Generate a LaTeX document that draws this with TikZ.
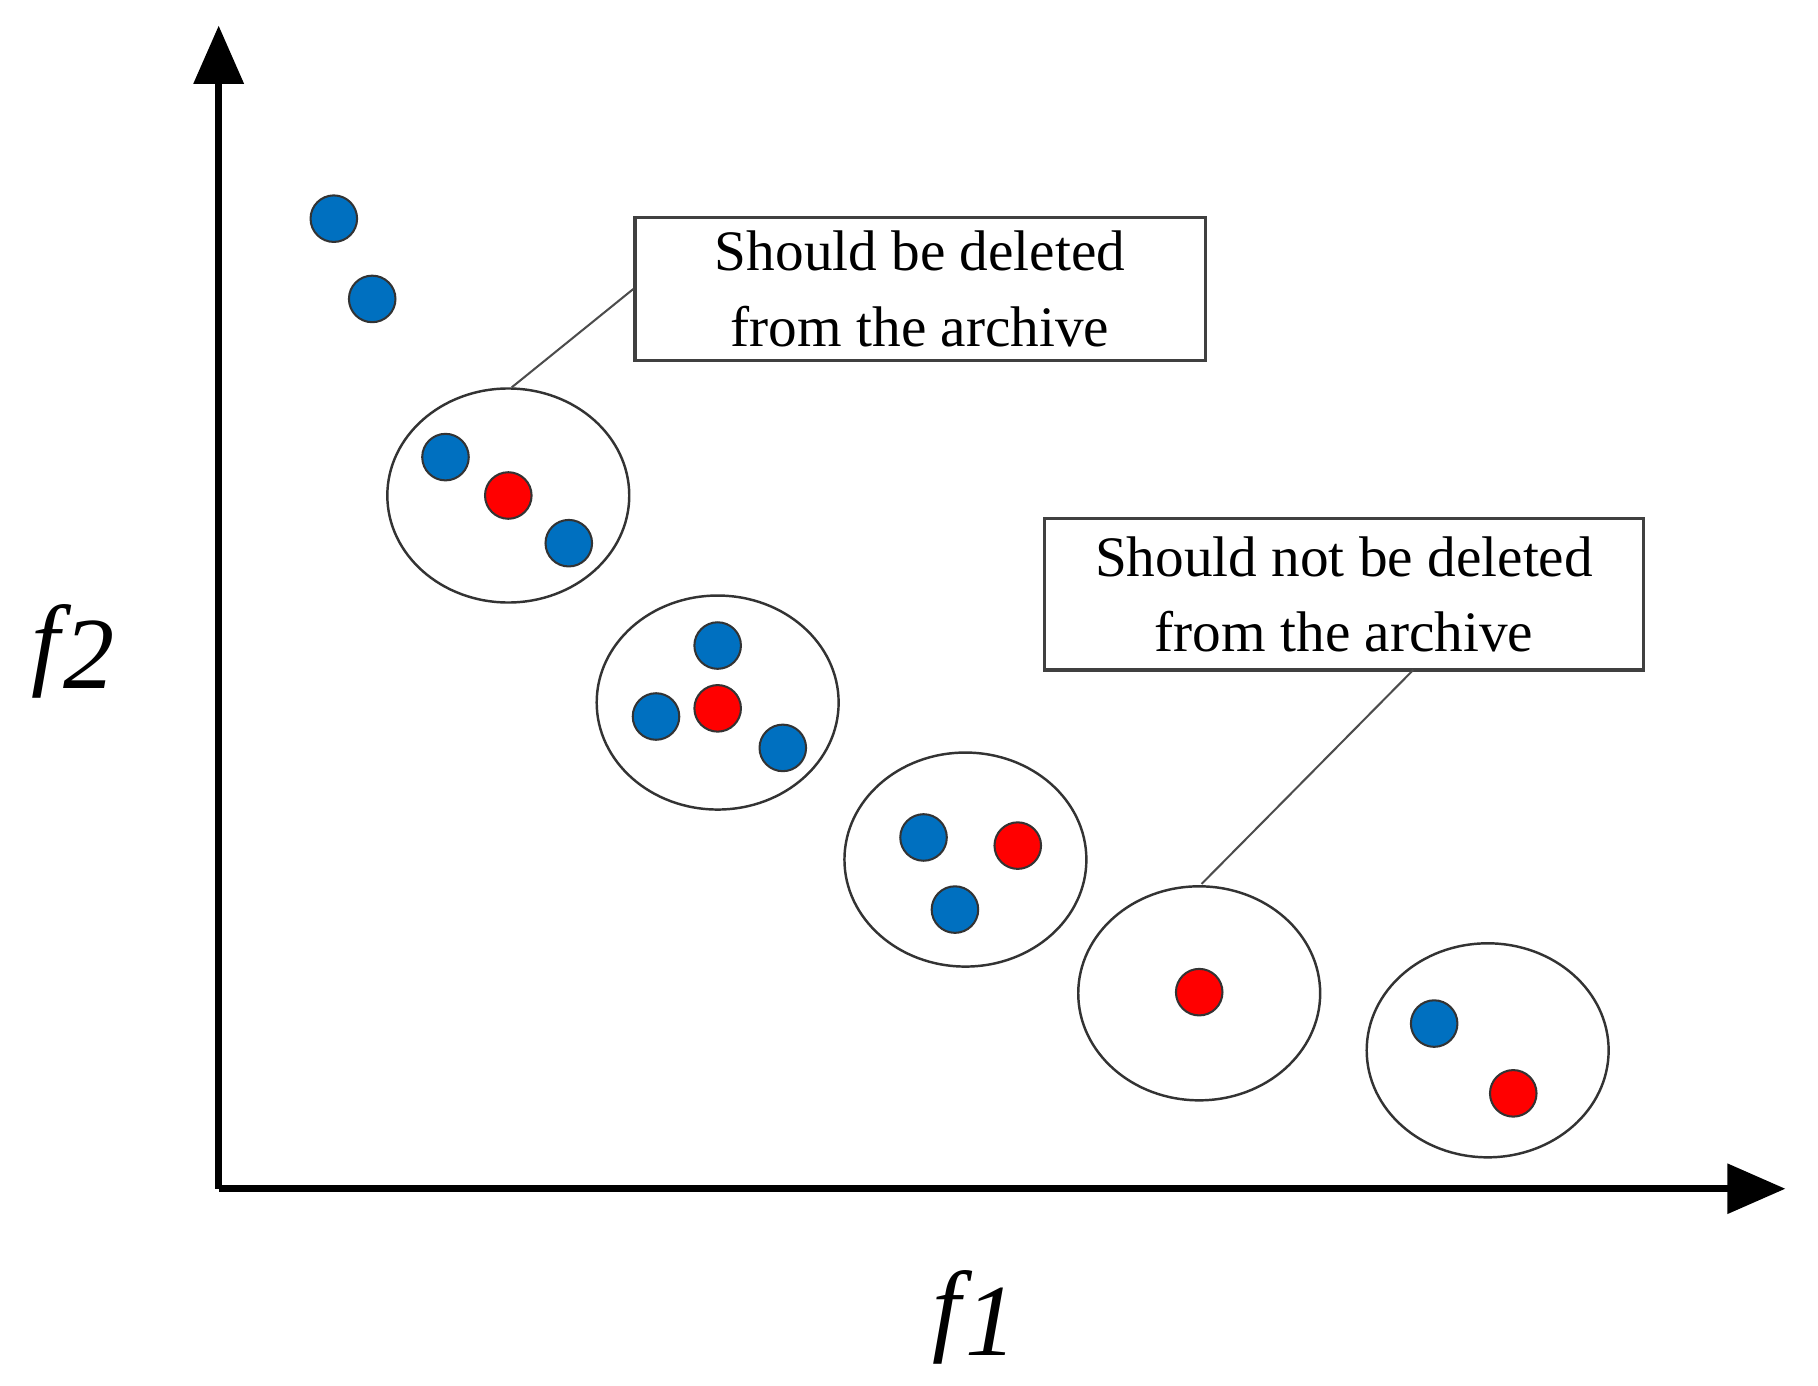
\documentclass[tikz,border=0pt]{standalone}
\usepackage{fontspec}
\setmainfont{Liberation Serif}
\usetikzlibrary{arrows.meta}
\definecolor{bdot}{RGB}{0,112,192}
\definecolor{rdot}{RGB}{255,0,0}
\begin{document}
\begin{tikzpicture}[x=0.01cm,y=-0.01cm,
  axis/.style={line width=1.7pt,-{Triangle[length=0.5cm,width=0.42cm]}},
  bd/.style={circle,draw=black!80,line width=0.5pt,fill=bdot,minimum size=0.4cm,inner sep=0pt},
  rd/.style={circle,draw=black!80,line width=0.5pt,fill=rdot,minimum size=0.4cm,inner sep=0pt},
  grp/.style={draw=black!80,line width=0.6pt},
  box/.style={draw=black!75,line width=0.8pt,align=center,font=\fontsize{14}{18.5}\selectfont,inner sep=0pt},
  lab/.style={font=\fontsize{25}{28}\selectfont\itshape},
  lead/.style={draw=black!70,line width=0.5pt}]
\useasboundingbox (0,0) rectangle (1563,1191);
\coordinate (O) at (188,1022);
\coordinate (Y) at (188,22);
\coordinate (X) at (1535,1022);
\draw[axis] (O) -- (Y);
\draw[axis] (O) -- (X);
\node[lab] (f2) at (63,560) {f\kern1pt\raisebox{-0.12em}{2}};
\node[lab] (f1) at (838,1133) {f\kern1pt\raisebox{-0.12em}{1}};
\draw[grp] (437,426) ellipse (104 and 92);
\draw[grp] (617,604) ellipse (104 and 92);
\draw[grp] (830,739) ellipse (104 and 92);
\draw[grp] (1031,854) ellipse (104 and 92);
\draw[grp] (1279,903) ellipse (104 and 92);
\node[bd] (a1) at (287,188) {};
\node[bd] (a2) at (320,257) {};
\node[bd] (b1) at (383,393) {};
\node[rd] (b2) at (437,426) {};
\node[bd] (b3) at (489,467) {};
\node[bd] (c1) at (617,555) {};
\node[rd] (c2) at (617,609) {};
\node[bd] (c3) at (564,616) {};
\node[bd] (c4) at (673,643) {};
\node[bd] (d1) at (794,720) {};
\node[rd] (d2) at (875,727) {};
\node[bd] (d3) at (821,782) {};
\node[rd] (e1) at (1031,853) {};
\node[bd] (g1) at (1233,880) {};
\node[rd] (g2) at (1301,940) {};
\node[box,minimum width=4.9cm,minimum height=1.23cm] (t1) at (791,248.5) {Should be deleted\\from the archive};
\node[box,minimum width=5.15cm,minimum height=1.3cm] (t2) at (1155.5,511) {Should not be deleted\\from the archive};
\coordinate (p1) at (440,333);
\coordinate (p2) at (1033,760);
\coordinate (q2) at (1215,576);
\draw[lead] (p1) -- (t1.west);
\draw[lead] (p2) -- (q2);
\end{tikzpicture}
\end{document}
